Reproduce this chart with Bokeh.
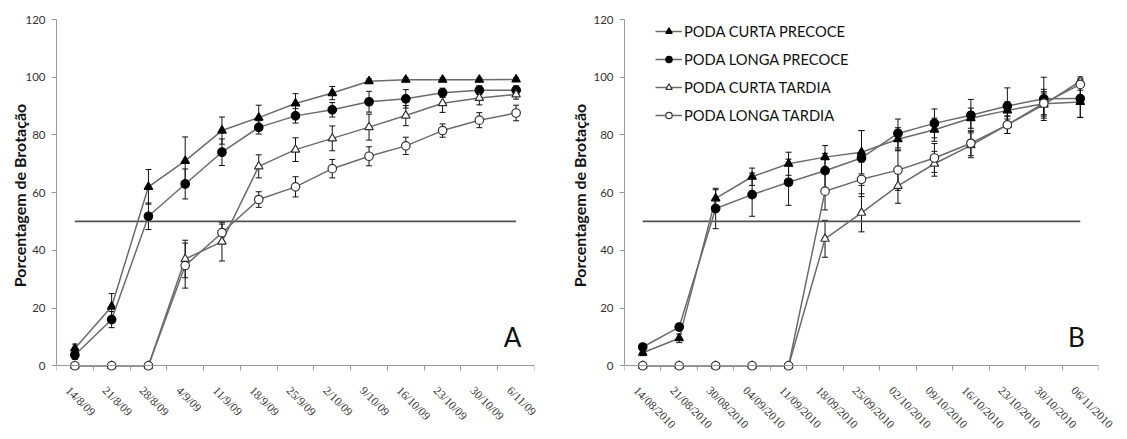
import math
from bokeh.plotting import figure
from bokeh.models import (FactorRange, Range1d, LinearAxis, FixedTicker, LabelSet,
                          ColumnDataSource, Whisker, TeeHead, Legend, LegendItem, Label)
from bokeh.layouts import row, column
from bokeh.embed import file_html
from bokeh.resources import INLINE

# ---------------- data ----------------
dates_2009 = ["14/8/09", "21/8/09", "28/8/09", "4/9/09", "11/9/09", "18/9/09", "25/9/09",
              "2/10/09", "9/10/09", "16/10/09", "23/10/09", "30/10/09", "6/11/09"]
dates_2010 = ["14/08/2010", "21/08/2010", "30/08/2010", "04/09/2010", "11/09/2010",
              "18/09/2010", "25/09/2010", "02/10/2010", "09/10/2010", "16/10/2010",
              "23/10/2010", "30/10/2010", "06/11/2010"]

series_names = ["PODA CURTA PRECOCE", "PODA LONGA PRECOCE", "PODA CURTA TARDIA", "PODA LONGA TARDIA"]

# Panel A (2009)
a_curta_precoce = [6, 20.5, 62, 71, 81.5, 86, 90.9, 94.5, 98.6, 99.1, 99.1, 99.1, 99.2]
a_longa_precoce = [3.7, 16, 51.8, 63, 74, 82.6, 86.6, 88.7, 91.5, 92.5, 94.6, 95.5, 95.5]
a_curta_tardia = [0, 0, 0, 37, 43, 69.1, 74.9, 78.8, 82.7, 86.7, 91, 92.8, 94]
a_longa_tardia = [0, 0, 0, 34.7, 46.1, 57.6, 62, 68.3, 72.6, 76.2, 81.5, 85.1, 87.6]
a_curta_precoce_err = [1.5, 4.5, 6, 8.3, 4.7, 4.3, 3.4, 2.3, 0.8, 0.6, 0.6, 0.6, 0.6]
a_longa_precoce_err = [1.5, 2.8, 4.6, 5.2, 4.6, 2.3, 2.5, 2.5, 3.6, 3.2, 1.6, 1.5, 1.5]
a_curta_tardia_err = [0, 0, 0, 6.5, 6.7, 4, 4.1, 4.3, 4.5, 3.5, 3.2, 2.4, 1.6]
a_longa_tardia_err = [0, 0, 0, 7.8, 3, 2.7, 3.5, 3.2, 3.3, 3, 2.3, 2.6, 2.7]

# Panel B (2010)
b_curta_precoce = [4.5, 9.5, 58, 65.5, 70, 72.3, 74, 78.5, 81.8, 85.8, 88.5, 90.8, 91.4]
b_longa_precoce = [6.5, 13.4, 54.5, 59.3, 63.6, 67.6, 72, 80.5, 84, 86.8, 90, 92.5, 92.6]
b_curta_tardia = [0, 0, 0, 0, 0, 44, 53, 62.3, 70, 76.4, 83.5, 90.5, 98.6]
b_longa_tardia = [0, 0, 0, 0, 0, 60.5, 64.6, 67.8, 72, 77.1, 83.5, 91, 97.5]
b_curta_precoce_err = [1, 1.5, 3, 3, 4, 4, 7.5, 4, 4, 3.5, 3, 5, 5.4]
b_longa_precoce_err = [0.8, 1.2, 7, 7.5, 8, 6, 9.5, 5, 5, 5.5, 6.3, 7.5, 6.5]
b_curta_tardia_err = [0, 0, 0, 0, 0, 6.4, 6.6, 6, 4.3, 4.3, 3, 4, 1.5]
b_longa_tardia_err = [0, 0, 0, 0, 0, 6.5, 6, 7, 5, 4.3, 3, 4, 2]

y_ticks = [0, 20, 40, 60, 80, 100, 120]
threshold = 50
y_label = "Porcentagem de Brotação"
panel_letters = ["A", "B"]

# ---------------- style ----------------
FONT = "Lato"
LINE_COLOR = "#6b6b6b"
AXIS_COLOR = "#9a9a9a"
TICK_TEXT = "#333333"
styles = [("triangle", "#000000", "#000000"),
          ("circle", "#000000", "#000000"),
          ("triangle", "#ffffff", "#303030"),
          ("circle", "#ffffff", "#303030")]
FRAME_H = 352
TOP = 19
BOTTOM = 6
STRIP_H = 58
STRIP_GAP = 6


def make_panel(dates, values, errors, letter, left, frame_w, right, label_standoff, with_legend):
    n = len(dates)
    p = figure(x_range=FactorRange(factors=dates, range_padding=0),
               y_range=Range1d(-2, y_ticks[-1]),
               frame_width=frame_w, frame_height=FRAME_H,
               min_border_left=left, min_border_right=right,
               min_border_top=TOP, min_border_bottom=BOTTOM,
               x_axis_type=None, output_backend="svg", toolbar_location=None)
    p.outline_line_color = None
    p.grid.visible = False
    p.background_fill_color = "white"
    p.border_fill_color = "white"

    ya = p.yaxis[0]
    ya.ticker = FixedTicker(ticks=y_ticks)
    ya.bounds = (y_ticks[0], y_ticks[-1])
    ya.axis_line_color = AXIS_COLOR
    ya.major_tick_line_color = AXIS_COLOR
    ya.minor_tick_line_color = None
    ya.major_tick_out = 5
    ya.major_tick_in = 0
    ya.major_label_standoff = 6
    ya.major_label_text_font = FONT
    ya.major_label_text_font_size = "11.5px"
    ya.major_label_text_color = TICK_TEXT
    ya.axis_label = y_label
    ya.axis_label_text_font = FONT
    ya.axis_label_text_font_size = "16px"
    ya.axis_label_text_font_style = "bold"
    ya.axis_label_text_color = "#111111"
    ya.axis_label_standoff = label_standoff

    # axis line and boundary ticks (between categories) at y = 0
    tick_axis = LinearAxis(
        ticker=FixedTicker(ticks=list(range(n + 1))),
        fixed_location=y_ticks[0],
        axis_line_color=AXIS_COLOR,
        major_tick_line_color=AXIS_COLOR,
        major_tick_out=5, major_tick_in=0,
        minor_tick_line_color=None,
        major_label_text_font_size="0px",
        major_label_text_color=None,
        major_label_standoff=0,
    )
    p.add_layout(tick_axis, "below")

    # 50% reference line
    p.line(x=[dates[0], dates[-1]], y=[threshold, threshold], line_color="#505050", line_width=1.8)

    items = []
    for k in range(len(values)):
        marker, fill, edge = styles[k]
        vals = values[k]
        errs = errors[k]
        src = ColumnDataSource(dict(x=dates, y=vals))
        lr = p.line("x", "y", source=src, line_color=LINE_COLOR, line_width=1.5)
        sr = p.scatter("x", "y", source=src, marker=marker, size=8.5,
                       fill_color=fill, line_color=edge, line_width=1.2)
        items.append(LegendItem(label=series_names[k], renderers=[lr, sr]))
        keep = [i for i in range(n) if errs[i] > 0]
        wsrc = ColumnDataSource(dict(
            x=[dates[i] for i in keep],
            upper=[vals[i] + errs[i] for i in keep],
            lower=[vals[i] - errs[i] for i in keep]))
        p.add_layout(Whisker(source=wsrc, base="x", upper="upper", lower="lower",
                             dimension="height", line_color="#111111", line_width=1,
                             upper_head=TeeHead(size=6, line_color="#111111", line_width=1),
                             lower_head=TeeHead(size=6, line_color="#111111", line_width=1)))

    p.add_layout(Label(x=frame_w - 22, y=35, x_units="screen", y_units="screen", text=letter,
                       text_font=FONT, text_font_size="26px", text_align="center",
                       text_baseline="alphabetic", text_color="#111111"))

    if with_legend:
        legend = Legend(items=items, location=(31, 247), orientation="vertical",
                        border_line_color=None, background_fill_alpha=0,
                        padding=0, margin=0, spacing=10,
                        glyph_width=27, glyph_height=16, label_height=16, label_standoff=2,
                        label_text_font=FONT, label_text_font_size="14.7px",
                        label_text_color="#111111")
        p.add_layout(legend)
    return p


def make_label_strip(dates, left, frame_w, right):
    """Strip under a panel holding the slanted date labels; its x scale matches the
    panel's category scale (category i centred at i + 0.5)."""
    n = len(dates)
    total = left + frame_w + right
    s = figure(x_range=Range1d(-left / frame_w * n, (frame_w + right) / frame_w * n),
               y_range=Range1d(STRIP_GAP - STRIP_H, STRIP_GAP),
               frame_width=total, frame_height=STRIP_H,
               min_border_left=0, min_border_right=0, min_border_top=0, min_border_bottom=0,
               x_axis_type=None, y_axis_type=None, output_backend="svg", toolbar_location=None)
    s.outline_line_color = None
    s.grid.visible = False
    s.background_fill_color = "white"
    s.border_fill_color = "white"
    src = ColumnDataSource(dict(x=[i + 0.5 for i in range(n)], y=[y_ticks[0]] * n, text=dates))
    s.add_layout(LabelSet(source=src, x="x", y="y", text="text",
                          angle=-math.pi / 4, x_offset=-2,
                          text_align="left", text_baseline="top",
                          text_font=FONT, text_font_size="11.8px", text_color=TICK_TEXT))
    return s


A_GEOM = dict(left=56, frame_w=478, right=33)
B_GEOM = dict(left=57, frame_w=474, right=20)

pA = make_panel(dates_2009,
                [a_curta_precoce, a_longa_precoce, a_curta_tardia, a_longa_tardia],
                [a_curta_precoce_err, a_longa_precoce_err, a_curta_tardia_err, a_longa_tardia_err],
                panel_letters[0], label_standoff=-7, with_legend=False, **A_GEOM)
pB = make_panel(dates_2010,
                [b_curta_precoce, b_longa_precoce, b_curta_tardia, b_longa_tardia],
                [b_curta_precoce_err, b_longa_precoce_err, b_curta_tardia_err, b_longa_tardia_err],
                panel_letters[1], label_standoff=1, with_legend=True, **B_GEOM)
sA = make_label_strip(dates_2009, **A_GEOM)
sB = make_label_strip(dates_2010, **B_GEOM)

layout = column(row(pA, pB), row(sA, sB))
open("out.html", "w").write(file_html(layout, INLINE))
